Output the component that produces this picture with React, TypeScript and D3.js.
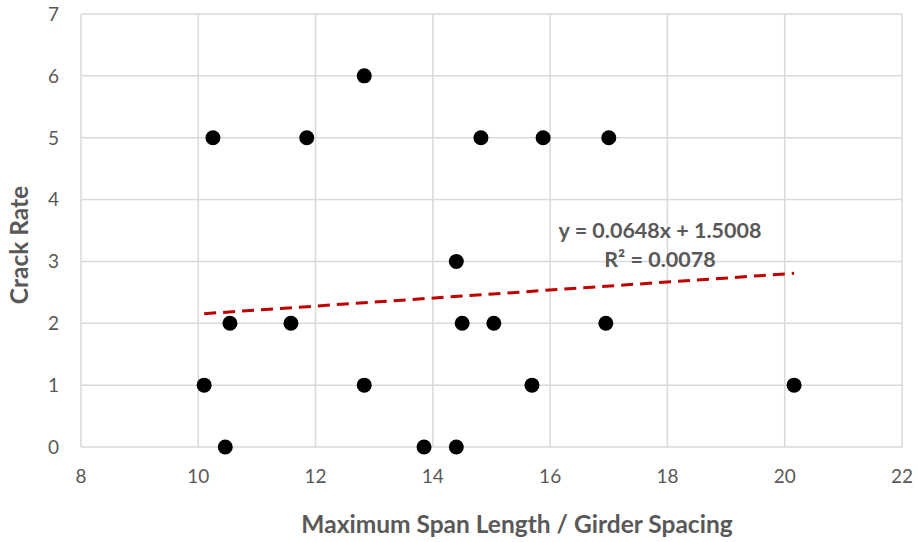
import React from "react";
import * as d3 from "d3";

const xValues = [10.10, 10.25, 10.46, 10.54, 11.58, 11.85, 12.83, 12.83, 13.85, 14.40, 14.40, 14.50, 14.82, 15.04, 15.69, 15.88, 16.95, 17.00, 20.16];
const yValues = [1, 5, 0, 2, 2, 5, 6, 1, 0, 3, 0, 2, 5, 2, 1, 5, 2, 5, 1];
const xTicks = [8, 10, 12, 14, 16, 18, 20, 22];
const yTicks = [0, 1, 2, 3, 4, 5, 6, 7];
const slope = 0.0648;
const intercept = 1.5008;
const eqLabel = "y = 0.0648x + 1.5008";
const r2Label = "R² = 0.0078";
const xTitle = "Maximum Span Length / Girder Spacing";
const yTitle = "Crack Rate";

export default function App() {
  const W = 918, H = 542;
  const x = d3.scaleLinear().domain([8, 22]).range([81, 902]);
  const y = d3.scaleLinear().domain([0, 7]).range([447, 14]);
  const font = "Lato, 'Open Sans', sans-serif";
  const xMin = d3.min(xValues)!;
  const xMax = d3.max(xValues)!;
  const line = d3.line<number>().x(d => x(d)).y(d => y(slope * d + intercept));
  return (
    <svg width={W} height={H} style={{ position: "absolute", left: 0, top: 0, background: "#fff" }}>
      {xTicks.map(t => (
        <line key={"gx" + t} x1={x(t)} x2={x(t)} y1={y(0)} y2={y(7)} stroke="#d9d9d9" strokeWidth={1.5} />
      ))}
      {yTicks.map(t => (
        <line key={"gy" + t} x1={x(8)} x2={x(22)} y1={y(t)} y2={y(t)} stroke="#d9d9d9" strokeWidth={1.5} />
      ))}
      {yTicks.map(t => (
        <text key={"ty" + t} x={59} y={y(t)} dy="0.36em" textAnchor="end" fontSize={19} fill="#595959" fontFamily={font}>{t}</text>
      ))}
      {xTicks.map(t => (
        <text key={"tx" + t} x={x(t)} y={483} textAnchor="middle" fontSize={19} fill="#595959" fontFamily={font}>{t}</text>
      ))}
      <path d={line([xMin, xMax]) || ""} stroke="#c00000" strokeWidth={3} strokeDasharray="12 7" fill="none" />
      {xValues.map((v, i) => (
        <circle key={"p" + i} cx={x(v)} cy={y(yValues[i])} r={7.5} fill="#000" />
      ))}
      <text x={660} y={238} textAnchor="middle" fontSize={21.5} fontWeight="bold" fill="#595959" fontFamily={font}>{eqLabel}</text>
      <text x={660} y={267} textAnchor="middle" fontSize={21.5} fontWeight="bold" fill="#595959" fontFamily={font}>{r2Label}</text>
      <text x={517} y={533} textAnchor="middle" fontSize={24.5} fontWeight="bold" fill="#595959" fontFamily={font}>{xTitle}</text>
      <text transform={`translate(28,${245}) rotate(-90)`} textAnchor="middle" fontSize={24.5} fontWeight="bold" fill="#595959" fontFamily={font}>{yTitle}</text>
    </svg>
  );
}
